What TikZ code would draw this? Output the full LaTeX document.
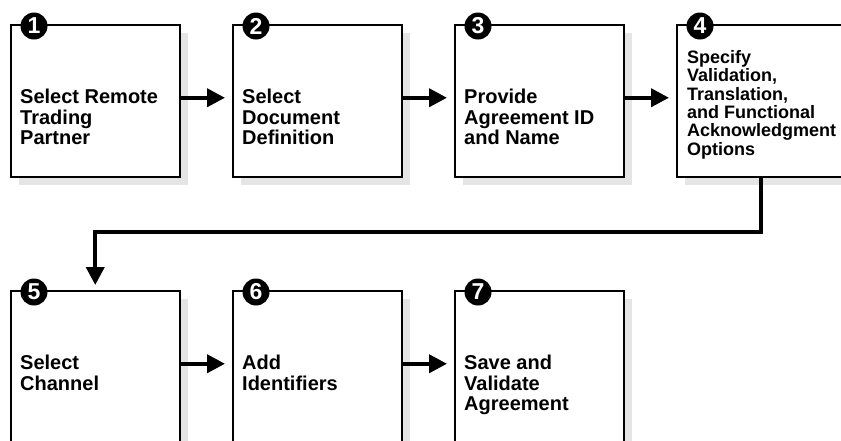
\documentclass[tikz,border=0pt]{standalone}
\usepackage{fontspec}
\setmainfont{Liberation Sans}
\usetikzlibrary{arrows.meta,positioning,shadows}

\begin{document}
\begin{tikzpicture}[
    x=1pt,y=-1pt,
    box/.style={rectangle,draw,line width=1.5pt,fill=white,minimum width=169pt,minimum height=152pt,anchor=north west,inner sep=0pt,
        drop shadow={shadow xshift=8pt,shadow yshift=-8pt,fill=gray!20,opacity=1}},
    num/.style={circle,fill=black,minimum size=27pt,inner sep=0pt,text=white,font=\fontsize{23}{23}\selectfont\bfseries},
    txt/.style={inner sep=0pt,align=left,font=\fontsize{20}{20.5}\selectfont\bfseries},
    flow/.style={line width=4pt,-{Triangle[length=18pt,width=18pt]}}
]
\clip (0,0) rectangle (841,440);

% Boxes with step numbers
\foreach \i/\x/\y in {1/10/24, 2/232/24, 3/454/24, 4/676/24, 5/10/290, 6/232/290, 7/454/290} {
    \node[box] (b\i) at (\x,\y) {};
    \node[num] (n\i) at ([shift={(24,2)}]b\i.north west) {\i};
}

% Step texts
\node[txt,below right=65pt and 10pt of b1.north west] (t1) {Select Remote\\Trading\\Partner};
\node[txt,below right=65pt and 10pt of b2.north west] (t2) {Select\\Document\\Definition};
\node[txt,below right=65pt and 10pt of b3.north west] (t3) {Provide\\Agreement ID\\and Name};
\node[txt,below right=26pt and 11pt of b4.north west,font=\fontsize{18}{18.4}\selectfont\bfseries] (t4) {Specify\\Validation,\\Translation,\\and Functional\\Acknowledgment\\Options};
\node[txt,below right=65pt and 10pt of b5.north west] (t5) {Select\\Channel};
\node[txt,below right=65pt and 10pt of b6.north west] (t6) {Add\\Identifiers};
\node[txt,below right=65pt and 10pt of b7.north west] (t7) {Save and\\Validate\\Agreement};

% Arrows
\foreach \a/\b in {1/2, 2/3, 3/4, 5/6, 6/7} {
    \draw[flow,shorten >=7pt] ([yshift=3pt]b\a.east) -- ([yshift=3pt]b\b.west);
}
\draw[flow,shorten >=5pt] (b4.south) -- ++(0,54) -| (b5.north);
\end{tikzpicture}
\end{document}
